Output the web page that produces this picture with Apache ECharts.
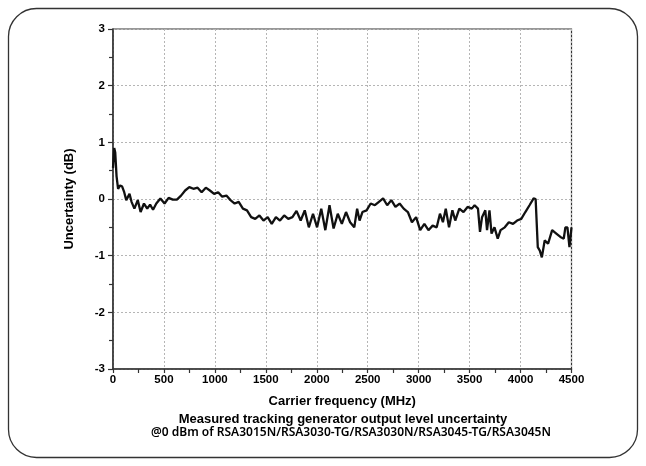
<!DOCTYPE html>
<html>
<head>
<meta charset="utf-8">
<script src="https://cdn.jsdelivr.net/npm/echarts@6/dist/echarts.min.js"></script>
<style>
html,body{margin:0;padding:0;background:#fff;}
#chart{width:646px;height:466px;}
</style>
</head>
<body>
<div id="chart"></div>
<script>
// Carrier frequency (MHz)
const freqs = [0,12,22,35,50,70,90,110,130,162,182,210,243,271,304,336,364,393,425,465,506,546,587,627,668,708,749,789,830,870,911,951,992,1032,1072,1113,1153,1194,1234,1275,1315,1356,1396,1437,1477,1518,1558,1599,1639,1680,1720,1761,1801,1842,1882,1922,1963,2003,2044,2084,2125,2165,2206,2246,2287,2327,2368,2396,2420,2448,2489,2529,2570,2610,2651,2691,2732,2772,2813,2853,2894,2934,2975,3015,3056,3096,3137,3177,3209,3238,3266,3298,3331,3359,3399,3440,3480,3521,3549,3582,3602,3622,3654,3671,3695,3715,3744,3776,3804,3845,3885,3926,3966,4007,4047,4088,4128,4148,4169,4189,4209,4237,4270,4310,4351,4391,4424,4440,4460,4480,4500];
// Uncertainty (dB)
const uncertainty = [0.55,0.9,0.82,0.4,0.18,0.24,0.22,0.12,-0.02,0.09,-0.05,-0.17,-0.02,-0.23,-0.08,-0.17,-0.1,-0.19,-0.08,0.01,-0.08,0.02,-0.01,-0.01,0.06,0.15,0.21,0.18,0.2,0.12,0.2,0.15,0.09,0.12,0.04,0.06,-0.02,-0.08,-0.05,-0.17,-0.2,-0.32,-0.35,-0.29,-0.38,-0.32,-0.44,-0.32,-0.38,-0.29,-0.35,-0.32,-0.21,-0.38,-0.2,-0.5,-0.26,-0.5,-0.17,-0.55,-0.11,-0.52,-0.26,-0.44,-0.23,-0.41,-0.5,-0.17,-0.38,-0.23,-0.2,-0.08,-0.11,-0.05,0.01,-0.11,-0.02,-0.14,-0.08,-0.17,-0.23,-0.41,-0.32,-0.55,-0.44,-0.55,-0.47,-0.5,-0.26,-0.41,-0.17,-0.5,-0.2,-0.38,-0.17,-0.23,-0.14,-0.17,-0.11,-0.17,-0.58,-0.32,-0.2,-0.55,-0.2,-0.61,-0.5,-0.7,-0.55,-0.5,-0.41,-0.44,-0.38,-0.35,-0.23,-0.11,0.01,0.0,-0.85,-0.91,-1.03,-0.73,-0.79,-0.55,-0.61,-0.67,-0.7,-0.5,-0.5,-0.85,-0.5];
const xTitle = 'Carrier frequency (MHz)';
const yTitle = 'Uncertainty (dB)';
const caption1 = 'Measured tracking generator output level uncertainty';
const caption2 = '@0 dBm of RSA3015N/RSA3030-TG/RSA3030N/RSA3045-TG/RSA3045N';

const chart = echarts.init(document.getElementById('chart'), null, {renderer:'canvas'});
const labelFont = {fontFamily:'Liberation Sans, Arial', fontWeight:'bold', fontSize:11.5, color:'#000'};
const axisCol = '#333';
chart.setOption({
  animation:false,
  backgroundColor:'#fff',
  grid:{left:113, right:74.5, top:29, bottom:97, show:true, borderColor:axisCol, borderWidth:1.2, backgroundColor:'transparent'},
  xAxis:{
    type:'value', min:0, max:4500, interval:500,
    name:xTitle, nameLocation:'middle', nameGap:26,
    nameTextStyle:{fontFamily:'Liberation Sans, Arial', fontWeight:'bold', fontSize:13, color:'#000'},
    axisLine:{show:true, onZero:false, lineStyle:{color:axisCol, width:1.5}},
    axisTick:{show:true, inside:false, length:4, lineStyle:{color:axisCol, width:1.2}},
    minorTick:{show:true, splitNumber:2, length:4, lineStyle:{color:axisCol, width:1.2}},
    axisLabel:Object.assign({margin:5, formatter:v=>String(v)}, labelFont),
    splitLine:{show:true, lineStyle:{color:'#b5b5b5', type:[2,2], width:1}}
  },
  yAxis:{
    type:'value', min:-3, max:3, interval:1,
    name:yTitle, nameLocation:'middle', nameGap:37,
    nameTextStyle:{fontFamily:'Liberation Sans, Arial', fontWeight:'bold', fontSize:13, color:'#000'},
    axisLine:{show:true, onZero:false, lineStyle:{color:axisCol, width:1.5}},
    axisTick:{show:true, inside:false, length:5, lineStyle:{color:axisCol, width:1.2}},
    minorTick:{show:true, splitNumber:2, length:4, lineStyle:{color:axisCol, width:1.2}},
    axisLabel:Object.assign({margin:8, formatter:v=>String(v)}, labelFont),
    splitLine:{show:true, lineStyle:{color:'#b5b5b5', type:[2,2], width:1}}
  },
  series:[{
    type:'line',
    data:freqs.map((f,i)=>[f, uncertainty[i]]),
    showSymbol:false,
    lineStyle:{color:'#111', width:2.3},
    z:5
  }],
  graphic:[
    {type:'rect', z:-1, shape:{x:8.5, y:8.5, width:629, height:449, r:28}, style:{fill:'none', stroke:'#333', lineWidth:1.3}},
    {type:'text', x:343, y:419, style:{text:caption1, textAlign:'center', textVerticalAlign:'middle', font:'bold 13px "Liberation Sans", Arial', fill:'#000'}},
    {type:'text', x:351, y:433, style:{text:caption2, textAlign:'center', textVerticalAlign:'middle', font:'600 12px "Noto Sans"', fill:'#000'}}
  ]
});
</script>
</body>
</html>
